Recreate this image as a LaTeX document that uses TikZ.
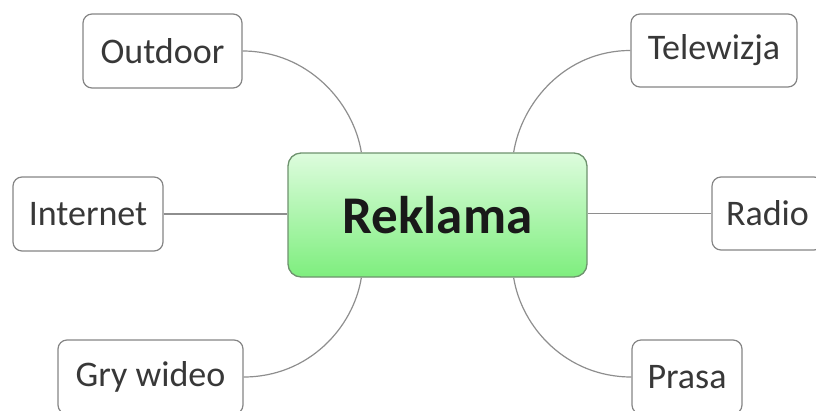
\documentclass[tikz,border=0pt]{standalone}
\usepackage{fontspec}
\setmainfont{Carlito}
\definecolor{linkgray}{HTML}{8E8E8E}
\definecolor{boxgray}{HTML}{858585}
\definecolor{txtgray}{HTML}{383838}
\definecolor{greenborder}{HTML}{6E926E}
\definecolor{greentop}{HTML}{DDFCDD}
\definecolor{greenbot}{HTML}{7EEE7E}
\tikzset{
  leaf/.style={draw=boxgray, line width=1.2pt, rounded corners=9pt, fill=white,
    text=txtgray, inner sep=0pt, font=\fontsize{36}{40}\selectfont},
  hub/.style={draw=greenborder, line width=1.3pt, rounded corners=13pt,
    top color=greentop, bottom color=greenbot, inner sep=0pt,
    minimum width=299pt, minimum height=124pt,
    font=\fontsize{53}{58}\selectfont\bfseries, text=black!90},
  link/.style={draw=linkgray, line width=1.2pt}
}
\begin{document}
\begin{tikzpicture}[x=1pt,y=-1pt]
\useasboundingbox (0,0) rectangle (816,410);
\clip (0,0) rectangle (816,410);
\node[hub] (c) at (437.5,215) {Reklama};
\node[leaf, minimum width=159pt, minimum height=74pt] (o) at (162.5,51) {Outdoor};
\node[leaf, minimum width=166pt, minimum height=73pt] (t) at (714,50.5) {Telewizja};
\node[leaf, minimum width=150pt, minimum height=74pt] (i) at (88,214) {Internet};
\node[leaf, minimum width=111pt, minimum height=73pt] (r) at (767.5,213.5) {Radio};
\node[leaf, minimum width=110pt, minimum height=74pt] (p) at (687,377) {Prasa};
\node[leaf, minimum width=185pt, minimum height=74pt] (g) at (150.5,377) {Gry wideo};
\coordinate (c1) at ([xshift=74pt]c.north west);
\coordinate (c2) at ([xshift=-74pt]c.north east);
\coordinate (c3) at ([xshift=74pt]c.south west);
\coordinate (c4) at ([xshift=-74pt]c.south east);
\draw[link] (o.east) .. controls +(65,0) and +(-8,-50) .. (c1);
\draw[link] (t.west) .. controls +(-65,0) and +(8,-50) .. (c2);
\draw[link] (g.east) .. controls +(65,0) and +(-8,50) .. (c3);
\draw[link] (p.west) .. controls +(-65,0) and +(8,50) .. (c4);
\draw[link] (i.east) -- (i.east -| c.west);
\draw[link] (r.west -| c.east) -- (r.west);
\end{tikzpicture}
\end{document}
